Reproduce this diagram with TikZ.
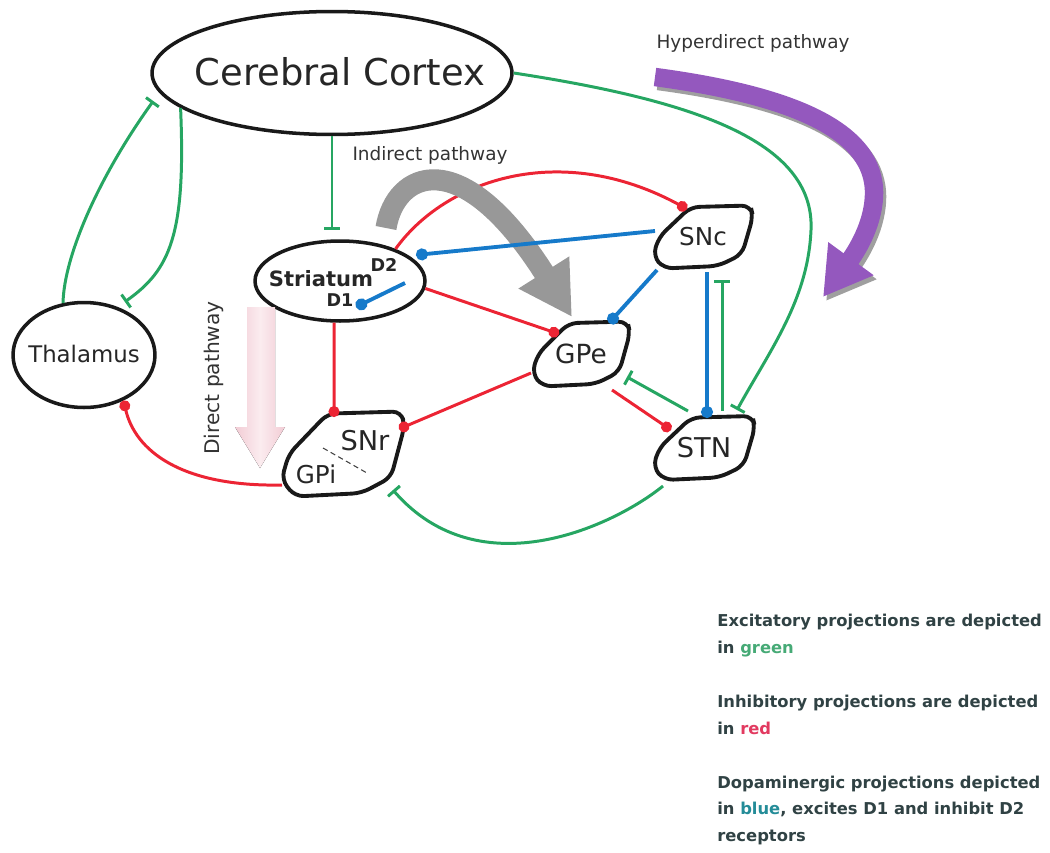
\documentclass[tikz,border=0pt]{standalone}
\usepackage{fontspec}
\setmainfont{DejaVu Sans}
\usepackage{xcolor}
\usetikzlibrary{positioning, shapes.geometric, arrows.meta, calc}
\definecolor{excite-color}{RGB}{38,166,98}
\definecolor{inhibit-color}{RGB}{236,36,52}
\definecolor{dopamine-color}{RGB}{22,122,202}
\definecolor{hyper-color}{RGB}{148,88,190}
\definecolor{indirect-color}{RGB}{152,152,152}
\definecolor{direct-edge}{RGB}{242,204,213}
\definecolor{direct-mid}{RGB}{251,236,239}
\definecolor{legend-text}{RGB}{48,66,68}
\definecolor{legend-green}{RGB}{70,170,118}
\definecolor{legend-red}{RGB}{226,58,96}
\definecolor{legend-blue}{RGB}{36,140,152}

\tikzset{
  nucleus/.style={ellipse, draw=black!90, line width=2pt, inner sep=0pt},
  blob/.style={inner sep=0pt, text=black!85},
  blob-line/.style={draw=black!90, line width=2.2pt, rounded corners=5pt},
  excite/.style={draw=excite-color, line width=1.7pt, -{Bar[width=9pt, line width=1.7pt]}},
  inhibit/.style={draw=inhibit-color, line width=1.7pt, -{Circle[length=6.2pt]}},
  dopamine/.style={draw=dopamine-color, line width=2.2pt, -{Circle[length=6.8pt]}},
  path-label/.style={font=\fontsize{10.5}{12}\selectfont, text=black!80},
}

% outline of a nucleus round a node: #1 node, #2 half width, #3 half height
\newcommand{\nucleusoutline}[3]{%
  \draw[blob-line, shift={(#1.center)}] (-0.25*#2,-0.95*#3) -- (0.95*#2,-#3) -- (#2,-0.65*#3)
    -- (0.78*#2,0.55*#3) -- (0.3*#2,0.92*#3) -- (-0.78*#2,#3) -- (-#2,0.6*#3) -- (-0.88*#2,0) -- cycle;}

\begin{document}
\begin{tikzpicture}[x=0.02cm, y=-0.02cm]
    \useasboundingbox (0,0) rectangle (1050,852);

    % Nuclei
    \node[nucleus, minimum width=7.2cm, minimum height=2.46cm] (cortex) at (332,73) {};
    \node[font=\fontsize{21}{24}\selectfont, text=black!85] (cortex-text) at (340,72) {Cerebral Cortex};
    \node[nucleus, minimum width=3.4cm, minimum height=1.6cm] (striatum) at (340,281) {};
    \node[font=\bfseries\fontsize{12}{14}\selectfont, text=black!85] (striatum-text) at (321,279) {Striatum};
    \node[font=\bfseries\fontsize{10}{12}\selectfont, text=black!85] (d2) at (384,265) {D2};
    \node[font=\bfseries\fontsize{10}{12}\selectfont, text=black!85] (d1) at (340,300) {D1};
    \node[nucleus, minimum width=2.84cm, minimum height=2.1cm] (thalamus) at (84,355) {};
    \node[font=\fontsize{13}{15}\selectfont, text=black!85] (thalamus-text) at (84,354) {Thalamus};

    \node[blob, font=\fontsize{14}{16}\selectfont] (snc) at (703,237) {SNc};
    \nucleusoutline{snc}{50}{31.5}
    \node[blob, font=\fontsize{15}{17}\selectfont] (gpe) at (581,354) {GPe};
    \nucleusoutline{gpe}{49}{32.5}
    \node[blob, font=\fontsize{15.5}{17}\selectfont] (stn) at (704,448) {STN};
    \nucleusoutline{stn}{51}{32}
    \node[blob] (snr) at (343,454) {};
    \nucleusoutline{snr}{61.5}{42.5}
    \node[blob, font=\fontsize{15.5}{17}\selectfont] (snr-text) at (365,441) {SNr};
    \node[blob, font=\fontsize{14}{16}\selectfont] (gpi-text) at (316,474) {GPi};
    \draw[densely dashed, line width=0.6pt, black!75] ($(snr)+(-20,-6)$) -- ($(snr)+(24,19)$);

    % Direct pathway arrow
    \fill[left color=direct-edge, right color=direct-edge, middle color=direct-mid]
        (247,307) -- (275,307) -- (275,427) -- (285,427) -- (260,468) -- (235,427) -- (247,427) -- cycle;
    \node[path-label, font=\fontsize{11.5}{13}\selectfont, rotate=90] (direct-label) at (214,378) {Direct pathway};

    % Inhibitory projection under the indirect arrow
    \draw[inhibit] (striatum.30) .. controls (445,180) and (560,140) .. ($(snc)+(-16,-28)$);

    % Indirect pathway arrow
    \draw[indirect-color, line width=12pt, -{Triangle[width=32pt, length=30pt]}]
        (386,228) .. controls (395,172) and (460,140) .. (572,317);
    \node[path-label] (indirect-label) at (430,155) {Indirect pathway};

    % Hyperdirect pathway arrow with shadow
    \draw[gray!75, line width=10.5pt, -{Triangle[width=30pt, length=27pt]}, shift={(3,4)}]
        (655,77) .. controls (790,95) and (876,130) .. (874,195) .. controls (873,230) and (850,260) .. (823,297);
    \draw[hyper-color, line width=10.5pt, -{Triangle[width=30pt, length=27pt]}]
        (655,77) .. controls (790,95) and (876,130) .. (874,195) .. controls (873,230) and (850,260) .. (823,297);
    \node[path-label] (hyper-label) at (753,43) {Hyperdirect pathway};

    % Excitatory projections
    \draw[excite] (cortex.south) -- ($(cortex.south |- striatum.north)+(0,-9)$);
    \draw[excite, shorten >=5pt] (cortex.193) .. controls (186,235) and (170,270) .. (thalamus.55);
    \draw[excite] (thalamus.112) .. controls (64,255) and (100,175) .. ($(cortex.west)+(3,28)$);
    \draw[excite] (cortex.east) .. controls (690,100) and (815,140) .. (811,230)
        .. controls (808,300) and (770,350) .. ($(stn)+(33,-38)$);
    \draw[excite] ($(stn)+(-16,-37)$) -- ($(gpe)+(46,23)$);
    \draw[excite] ($(stn)+(18,-37)$) -- ($(snc)+(19,43)$);
    \draw[excite] ($(stn)+(-41,38)$) .. controls (615,525) and (480,590) .. ($(snr)+(50,36)$);

    % Inhibitory projections
    \draw[inhibit] (striatum.262) -- ($(snr)+(-9,-37)$);
    \draw[inhibit] (striatum.-5) -- ($(gpe)+(-22,-20)$);
    \draw[inhibit] ($(gpe)+(-50,19)$) -- ($(snr)+(56,-25)$);
    \draw[inhibit] ($(gpe)+(31,36)$) -- ($(stn)+(-33,-18)$);
    \draw[inhibit] ($(snr)+(-61,31)$) .. controls (180,487) and (135,450) .. (thalamus.-49);

    % Dopaminergic projections
    \draw[dopamine] ($(snc)+(-48,-6)$) -- ($(striatum)+(76,-26)$);
    \draw[dopamine] ($(snc)+(-46,33)$) -- ($(gpe)+(28,-31)$);
    \draw[dopamine] ($(snc)+(4,35)$) -- ($(stn)+(3,-30)$);
    \draw[dopamine] ($(striatum)+(65,2)$) -- ($(striatum)+(16,26)$);

    % Legend
    \node[anchor=north west, inner sep=0pt, align=left, text=legend-text,
          font=\bfseries\fontsize{9.3}{15.3}\selectfont] (legend) at (717,614)
        {Excitatory projections are depicted\\
         in \textcolor{legend-green}{green}\\[15.3pt]
         Inhibitory projections are depicted\\
         in \textcolor{legend-red}{red}\\[15.3pt]
         Dopaminergic projections depicted\\
         in \textcolor{legend-blue}{blue}, excites D1 and inhibit D2\\
         receptors};
\end{tikzpicture}
\end{document}
